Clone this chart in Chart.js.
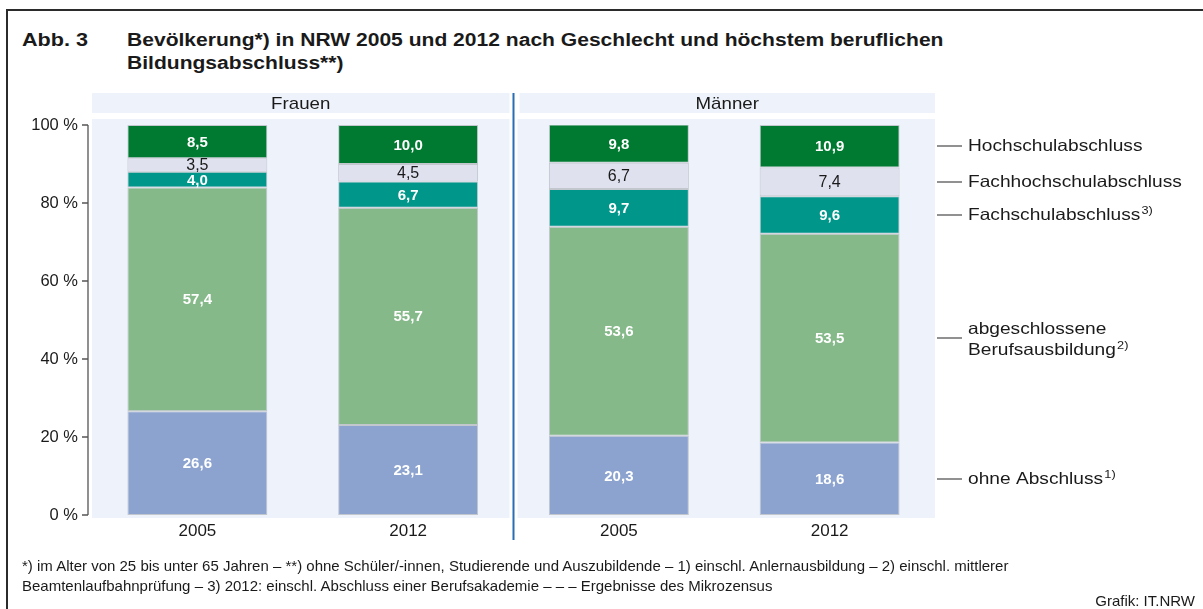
<!DOCTYPE html>
<html lang="de">
<head>
<meta charset="utf-8">
<script src="https://cdn.jsdelivr.net/npm/chart.js@4.4.1/dist/chart.umd.min.js"></script>
<style>
html,body{margin:0;padding:0;background:#fff;}
body{width:1203px;height:609px;position:relative;overflow:hidden;font-family:"Liberation Sans",Arial,sans-serif;color:#1a1a1a;}
#frame{position:absolute;left:6px;top:9px;width:1210px;height:620px;border-left:2px solid #2b2b2b;border-top:2px solid #2b2b2b;}
#chart{position:absolute;left:0;top:0;}
.t{position:absolute;font-weight:bold;font-size:18px;line-height:23px;white-space:nowrap;transform:scaleX(1.17);transform-origin:0 0;}
#abb{left:22px;top:29px;transform:scaleX(1.2);}
#title{left:127px;top:29px;}
#notes{position:absolute;left:22px;top:556px;font-size:15px;line-height:20px;white-space:nowrap;}
#credit{position:absolute;right:8px;top:592px;font-size:15px;line-height:18px;}
</style>
</head>
<body>
<div id="frame"></div>
<div class="t" id="abb">Abb. 3</div>
<div class="t" id="title">Bevölkerung*) in NRW 2005 und 2012 nach Geschlecht und höchstem beruflichen<br>Bildungsabschluss**)</div>
<canvas id="chart" width="1203" height="609"></canvas>
<div id="notes">*) im Alter von 25 bis unter 65 Jahren – **) ohne Schüler/-innen, Studierende und Auszubildende – 1) einschl. Anlernausbildung – 2) einschl. mittlerer<br>Beamtenlaufbahnprüfung – 3) 2012: einschl. Abschluss einer Berufsakademie – – – Ergebnisse des Mikrozensus</div>
<div id="credit">Grafik: IT.NRW</div>
<script>
/* ---------- DATA ---------- */
const years = ['2005','2012','2005','2012'];
const groups = ['Frauen','Männer'];
const ohneAbschluss = [26.6, 23.1, 20.3, 18.6];
const berufsausbildung = [57.4, 55.7, 53.6, 53.5];
const fachschule = [4.0, 6.7, 9.7, 9.6];
const fachhochschule = [3.5, 4.5, 6.7, 7.4];
const hochschule = [8.5, 10.0, 9.8, 10.9];
const seriesNames = ['ohne Abschluss','abgeschlossene\nBerufsausbildung','Fachschulabschluss','Fachhochschulabschluss','Hochschulabschluss'];
const seriesSup = ['1)','2)','3)','',''];
const yTicks = [0,20,40,60,80,100];

/* ---------- STYLE ---------- */
const colors = ['#8ca3cf','#86b98a','#00968a','#dfe1ef','#007a30'];
const labelDark = [false,false,false,true,false];
const panelBg = '#eef3fb';
const FONT = '"Liberation Sans", Arial, sans-serif';
const fmt = v => v.toFixed(1).replace('.',',');

const decor = {
  id:'decor',
  beforeDatasetsDraw(chart){
    const {ctx, chartArea:a, scales:{x,y}} = chart;
    const mid = (x.getPixelForValue(1)+x.getPixelForValue(2))/2;
    ctx.save();
    ctx.fillStyle = panelBg;
    // plot panels
    ctx.fillRect(a.left, a.top-6, mid-4-a.left, a.bottom-a.top+9);
    ctx.fillRect(mid+4, a.top-6, a.right-mid-4, a.bottom-a.top+9);
    // header bands
    ctx.fillRect(a.left, a.top-32, mid-4-a.left, 20);
    ctx.fillRect(mid+6, a.top-32, a.right-mid-6, 20);
    ctx.fillStyle = '#1a1a1a';
    ctx.font = '17px '+FONT;
    ctx.textAlign = 'center'; ctx.textBaseline = 'middle';
    [[groups[0],(a.left+mid-4)/2],[groups[1],(mid+6+a.right)/2]].forEach(([g,cx])=>{
      ctx.save(); ctx.translate(cx, a.top-21); ctx.scale(1.1,1);
      ctx.fillText(g,0,0); ctx.restore();
    });
    // y axis line + ticks
    ctx.strokeStyle = '#555'; ctx.lineWidth = 1.3;
    const ax = a.left-4;
    ctx.beginPath();
    ctx.moveTo(ax, y.getPixelForValue(100)); ctx.lineTo(ax, y.getPixelForValue(0));
    yTicks.forEach(t=>{ const py=y.getPixelForValue(t); ctx.moveTo(ax-6,py); ctx.lineTo(ax,py); });
    ctx.stroke();
    ctx.restore();
  },
  afterDatasetsDraw(chart){
    const {ctx, chartArea:a, scales:{x}} = chart;
    ctx.save();
    ctx.textAlign = 'center'; ctx.textBaseline = 'middle';
    // value labels
    chart.data.datasets.forEach((ds,i)=>{
      chart.getDatasetMeta(i).data.forEach((bar,j)=>{
        const cy = (bar.y+bar.base)/2;
        ctx.font = (labelDark[i] ? '16px ' : 'bold 15px ')+FONT;
        ctx.fillStyle = labelDark[i] ? '#1a1a1a' : '#ffffff';
        ctx.fillText(fmt(ds.data[j]), bar.x, cy+1);
      });
    });
    // divider between Frauen and Männer
    const mid = (x.getPixelForValue(1)+x.getPixelForValue(2))/2;
    ctx.strokeStyle = '#2a6db5'; ctx.lineWidth = 2;
    ctx.beginPath(); ctx.moveTo(mid, a.top-32); ctx.lineTo(mid, a.bottom+25); ctx.stroke();
    // series annotations on the right, aligned with the last bar
    const last = chart.data.labels.length-1;
    ctx.textAlign = 'left'; ctx.strokeStyle = '#555'; ctx.lineWidth = 1.3;
    chart.data.datasets.forEach((ds,i)=>{
      const bar = chart.getDatasetMeta(i).data[last];
      const cy = Math.round((bar.y+bar.base)/2);
      ctx.beginPath(); ctx.moveTo(a.right+2, cy); ctx.lineTo(a.right+27, cy); ctx.stroke();
      const lines = seriesNames[i].split('\n');
      ctx.fillStyle = '#1a1a1a';
      lines.forEach((ln,k)=>{
        const ty = lines.length>1 ? cy-9+k*21 : cy;
        ctx.save();
        ctx.translate(a.right+33, ty); ctx.scale(1.16,1);
        ctx.font = '16.5px '+FONT;
        ctx.fillText(ln, 0, 0);
        if(k===lines.length-1 && seriesSup[i]){
          const w = ctx.measureText(ln).width;
          ctx.font = '11px '+FONT;
          ctx.fillText(seriesSup[i], w+1, -4);
        }
        ctx.restore();
      });
    });
    ctx.restore();
  }
};

const series = [ohneAbschluss, berufsausbildung, fachschule, fachhochschule, hochschule];
new Chart(document.getElementById('chart'), {
  type:'bar',
  data:{
    labels:years,
    datasets:series.map((d,i)=>({
      label:seriesNames[i].replace('\n',' '),
      data:d,
      backgroundColor:colors[i],
      borderColor:'rgba(175,180,185,0.7)',
      borderWidth:1,
      borderSkipped:false,
      barPercentage:0.664,
      categoryPercentage:1
    }))
  },
  options:{
    responsive:false,
    animation:false,
    devicePixelRatio:1,
    layout:{padding:{top:125,right:268,bottom:0,left:0}},
    plugins:{legend:{display:false},tooltip:{enabled:false}},
    scales:{
      x:{
        stacked:true,
        grid:{display:false,drawTicks:false},
        border:{display:false},
        ticks:{color:'#1a1a1a',font:{family:FONT,size:17},padding:6},
        afterFit:s=>{s.height=94;}
      },
      y:{
        stacked:true,min:0,max:100,
        grid:{display:false,drawTicks:false},
        border:{display:false},
        ticks:{stepSize:20,color:'#1a1a1a',font:{family:FONT,size:16.5},padding:14,callback:v=>v+' %'},
        afterFit:s=>{s.width=92;}
      }
    }
  },
  plugins:[decor]
});
</script>
</body>
</html>
